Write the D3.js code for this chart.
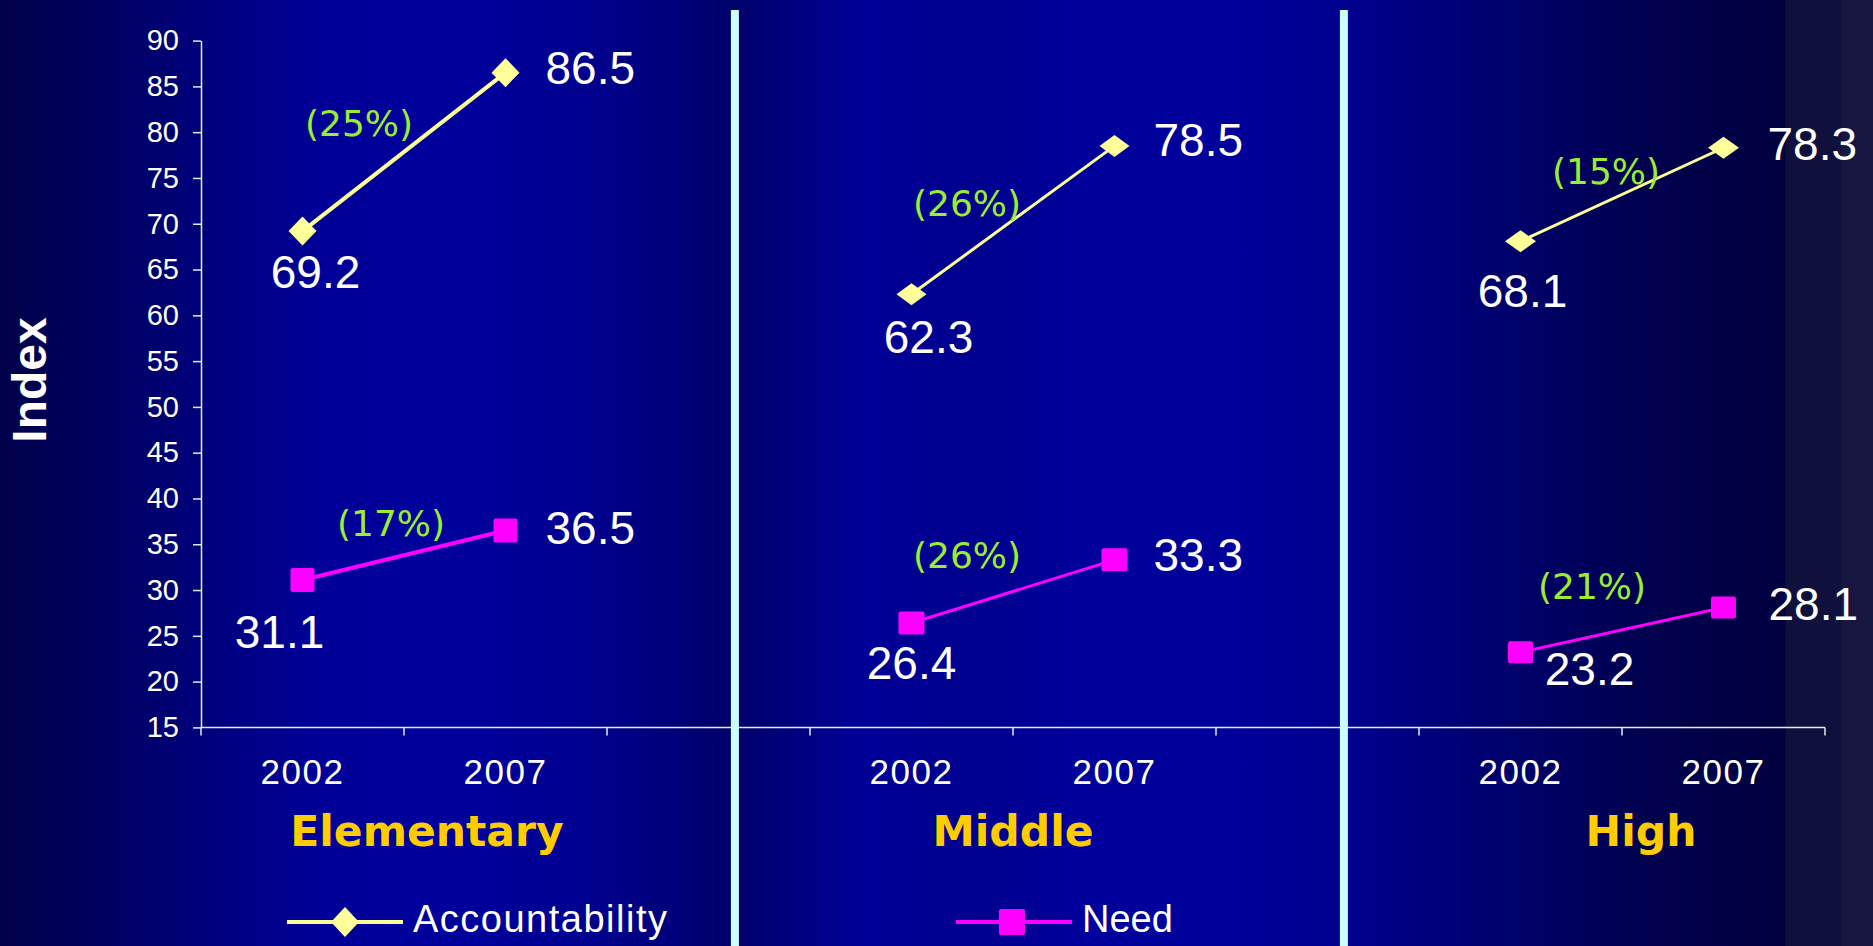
<!DOCTYPE html>
<html><head><meta charset="utf-8">
<script src="https://cdn.jsdelivr.net/npm/d3@7"></script>
<style>body{margin:0;background:#000050;overflow:hidden}svg{display:block}</style>
</head><body><svg id="chart" width="1873" height="946"></svg>
<script>
// ---------- data ----------
const panels = ["Elementary", "Middle", "High"];
const years = ["2002", "2007"];
const accountability = [[69.2, 86.5], [62.3, 78.5], [68.1, 78.3]];
const need = [[31.1, 36.5], [26.4, 33.3], [23.2, 28.1]];
const accChange = ["(25%)", "(26%)", "(15%)"];
const needChange = ["(17%)", "(26%)", "(21%)"];
const yTickValues = [15, 20, 25, 30, 35, 40, 45, 50, 55, 60, 65, 70, 75, 80, 85, 90];
const seriesNames = ["Accountability", "Need"];
const yTitle = "Index";

// ---------- layout / style (not data) ----------
const W = 1873, H = 946;
const ACC = "#ffff99", NEED = "#ff00ff", PCT = "#99ee33", TITLE = "#ffcc00", SEP = "#ccffff";
const valueFont = "46px 'Liberation Sans', Arial, sans-serif";
// value label offsets relative to point: [dx, dy, anchor]
const accLblOff = [
  [[13, 57, "middle"], [40, 11, "start"]],
  [[17, 59, "middle"], [39, 10, "start"]],
  [[2, 66, "middle"], [44, 12, "start"]]
];
const needLblOff = [
  [[-23, 68, "middle"], [40, 13.5, "start"]],
  [[0, 56, "middle"], [39, 11, "start"]],
  [[69, 33, "middle"], [45, 13, "start"]]
];
// percentage label offsets relative to segment midpoint
const accPctOff = [[-45, -16], [-46, -4], [-16, -10]];
const needPctOff = [[-13, -19], [-46, -23], [-30, -31]];
// marker half sizes per panel [diamond w,h] [square w,h]
const diaSize = [[14, 14.5], [15, 11], [15.5, 11]];
const sqSize = [[12, 12], [13, 11.5], [12.5, 11]];
const lineW = [4, 3, 3];
const titleDx = [23, 0, 19];

const svg = d3.select("#chart");
const defs = svg.append("defs");
const grad = defs.append("linearGradient").attr("id", "bg")
  .attr("x1", 0).attr("x2", 1).attr("y1", 0).attr("y2", 0);
[
  [0, "#00004a"], [0.05, "#00005e"], [0.1, "#000078"], [0.17, "#000098"],
  [0.25, "#00009c"], [0.31, "#000090"], [0.36, "#00007a"], [0.385, "#00006c"],
  [0.40, "#000070"], [0.46, "#000098"], [0.52, "#00008e"], [0.58, "#00009c"],
  [0.66, "#00009a"], [0.72, "#00008e"], [0.80, "#00006e"], [0.88, "#00004e"],
  [0.953, "#000040"], [0.9535, "#10103c"], [0.983, "#10103c"], [0.9835, "#161640"], [1, "#161640"]
].forEach(([o, c]) => grad.append("stop").attr("offset", o).attr("stop-color", c));
svg.append("rect").attr("width", W).attr("height", H).attr("fill", "url(#bg)");

// ---------- scales ----------
const keys = [];
panels.forEach((p, i) => {
  years.forEach(yr => keys.push(p + "|" + yr));
  if (i < panels.length - 1) keys.push("gap" + i);
});
const x = d3.scaleBand().domain(keys).range([201, 1825]).padding(0);
const bw = x.bandwidth();
const cx = k => x(k) + bw / 2;
const y = d3.scaleLinear().domain([15, 90]).range([727.4, 40.6]);

// ---------- y axis ----------
const gy = svg.append("g").attr("transform", `translate(${x.range()[0]},0)`)
  .call(d3.axisLeft(y).tickValues(yTickValues).tickSize(8).tickSizeOuter(0).tickPadding(14).tickFormat(d3.format("d")));
gy.select(".domain").attr("stroke", "#e8e8f0").attr("stroke-width", 1.5);
gy.selectAll(".tick line").attr("stroke", "#e8e8f0").attr("stroke-width", 1.5);
gy.selectAll(".tick text").attr("fill", "#ffffff")
  .style("font", "29px 'Liberation Sans', Arial, sans-serif");

// ---------- x axis ----------
const gx = svg.append("g");
gx.append("line").attr("x1", x.range()[0]).attr("x2", x.range()[1])
  .attr("y1", y(15)).attr("y2", y(15)).attr("stroke", "#e8e8f0").attr("stroke-width", 1.5);
const bounds = keys.map(k => x(k)).concat([x.range()[1]]);
gx.selectAll("line.tk").data(bounds).join("line").attr("class", "tk")
  .attr("x1", d => d).attr("x2", d => d).attr("y1", y(15)).attr("y2", y(15) + 8)
  .attr("stroke", "#e8e8f0").attr("stroke-width", 1.5);
gx.selectAll("text.yr").data(keys.filter(k => k.includes("|"))).join("text").attr("class", "yr")
  .attr("x", d => cx(d)).attr("y", y(15) + 57).attr("text-anchor", "middle")
  .attr("fill", "#ffffff").style("font", "35px 'Liberation Sans', Arial, sans-serif")
  .style("letter-spacing", "1.5px")
  .text(d => d.split("|")[1]);

// panel titles
svg.selectAll("text.ptitle").data(panels).join("text").attr("class", "ptitle")
  .attr("x", (p, i) => (cx(p + "|" + years[0]) + cx(p + "|" + years[1])) / 2 + titleDx[i])
  .attr("y", y(15) + 119).attr("text-anchor", "middle").attr("fill", TITLE)
  .style("font", "bold 42.5px 'DejaVu Sans', Verdana, sans-serif")
  .text(d => d);

// separators
keys.filter(k => k.startsWith("gap")).forEach(k => {
  svg.append("rect").attr("x", x(k) + 0.63 * bw - 4).attr("y", 10)
    .attr("width", 8).attr("height", H - 10).attr("fill", SEP);
});

// y title
svg.append("text").attr("transform", "translate(46,380) rotate(-90)")
  .attr("text-anchor", "middle").attr("fill", "#ffffff")
  .style("font", "bold 48px 'Liberation Sans', Arial, sans-serif").text(yTitle);

// ---------- series ----------
const diamond = (w, h) => `M0,${-h}L${w},0L0,${h}L${-w},0Z`;
const lineGen = d3.line().x(d => d[0]).y(d => d[1]);

function drawSeries(values, color, lblOff, pctTexts, pctOff, isAcc) {
  panels.forEach((p, i) => {
    const pts = years.map((yr, j) => [cx(p + "|" + yr), y(values[i][j])]);
    const g = svg.append("g");
    g.append("path").attr("d", lineGen(pts)).attr("fill", "none")
      .attr("stroke", color).attr("stroke-width", lineW[i]);
    pts.forEach((pt, j) => {
      if (isAcc) {
        g.append("path").attr("d", diamond(diaSize[i][0], diaSize[i][1]))
          .attr("transform", `translate(${pt[0]},${pt[1]})`).attr("fill", color);
      } else {
        g.append("rect").attr("x", pt[0] - sqSize[i][0]).attr("y", pt[1] - sqSize[i][1])
          .attr("width", 2 * sqSize[i][0]).attr("height", 2 * sqSize[i][1]).attr("rx", 2)
          .attr("fill", color);
      }
      const o = lblOff[i][j];
      g.append("text").attr("x", pt[0] + o[0]).attr("y", pt[1] + o[1])
        .attr("text-anchor", o[2]).attr("fill", "#ffffff").style("font", valueFont)
        .text(values[i][j].toFixed(1));
    });
    const mid = [(pts[0][0] + pts[1][0]) / 2, (pts[0][1] + pts[1][1]) / 2];
    g.append("text").attr("x", mid[0] + pctOff[i][0]).attr("y", mid[1] + pctOff[i][1])
      .attr("text-anchor", "middle").attr("fill", PCT)
      .style("font", "36px 'DejaVu Sans', Verdana, sans-serif").text(pctTexts[i]);
  });
}
drawSeries(accountability, ACC, accLblOff, accChange, accPctOff, true);
drawSeries(need, NEED, needLblOff, needChange, needPctOff, false);

// ---------- legend ----------
const leg = svg.append("g");
const legItems = [
  { name: seriesNames[0], color: ACC, x0: 287, isAcc: true, ls: "1.5px" },
  { name: seriesNames[1], color: NEED, x0: 956, isAcc: false, ls: "0px" }
];
legItems.forEach(it => {
  const ly = 922;
  leg.append("line").attr("x1", it.x0).attr("x2", it.x0 + 116).attr("y1", ly).attr("y2", ly)
    .attr("stroke", it.color).attr("stroke-width", 4);
  if (it.isAcc) {
    leg.append("path").attr("d", diamond(14, 15)).attr("transform", `translate(${it.x0 + 58},${ly})`)
      .attr("fill", it.color);
  } else {
    leg.append("rect").attr("x", it.x0 + 56 - 13).attr("y", ly - 13).attr("width", 26).attr("height", 26)
      .attr("rx", 2).attr("fill", it.color);
  }
  leg.append("text").attr("x", it.x0 + 126).attr("y", ly + 10).attr("fill", "#ffffff")
    .style("font", "38px 'Liberation Sans', Arial, sans-serif").style("letter-spacing", it.ls)
    .text(it.name);
});
</script>
</body></html>
